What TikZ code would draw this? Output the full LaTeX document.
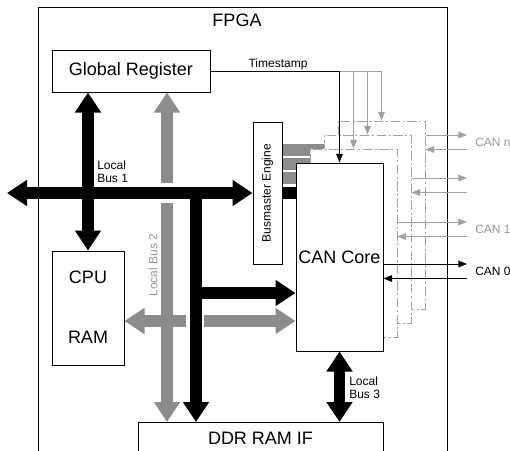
\documentclass[tikz,border=0pt]{standalone}
\usepackage{fontspec}
\setmainfont{Liberation Sans}
\usetikzlibrary{arrows.meta,calc,backgrounds,positioning}
\definecolor{busgray}{RGB}{140,140,140}
\definecolor{linegray}{RGB}{160,160,160}
\definecolor{labelgray}{RGB}{150,150,150}
\tikzset{
    box/.style={draw, fill=white, line width=0.75pt, inner sep=0pt},
    bigtxt/.style={font=\fontsize{13.5}{15}\selectfont},
    smalltxt/.style={font=\fontsize{9}{10}\selectfont, inner sep=0pt, align=left},
    canframe/.style={draw=linegray, fill=white, line width=0.75pt,
        dash pattern=on 7pt off 2pt on 1.5pt off 2pt,
        minimum width=65.25pt, minimum height=141pt, inner sep=0pt},
    bus/.style={line width=8.5pt, >={Triangle[width=18.75pt,length=15pt]}, ->},
    dbus/.style={bus, <->},
    gbus/.style={bus, busgray},
    sig/.style={line width=0.75pt, >={Triangle[width=5pt,length=6.5pt]}, ->}
}
\begin{document}
\begin{tikzpicture}[x=0.75pt,y=-0.75pt]
            \useasboundingbox (0,0) rectangle (510,450);

            \coordinate (corec) at (339.5,257);
            \coordinate (busL) at (7,193);
            \coordinate (l2) at (167,193);
            \coordinate (l1v) at (196,193);
            \coordinate (br) at (196,293);
            \coordinate (g2) at (196,321);
            \coordinate (edge) at (467,0);

            \node[bigtxt] (fpga) at (237,20) {FPGA};
            \node[box, bigtxt, minimum width=118.5pt, minimum height=31.5pt] (greg) at (131,71) {Global Register};
            \node[box, minimum width=54pt, minimum height=85.5pt] (cpu) at (88,308) {};
            \node[bigtxt] (cputxt) at (88,277) {CPU};
            \node[bigtxt] (ramtxt) at (88,337) {RAM};
            \node[box, minimum width=21.75pt, minimum height=106.5pt] (bme) at (267.5,193) {};
            \node[smalltxt, rotate=90] (bmetxt) at (bme) {Busmaster Engine};
            \node[box, anchor=north west, minimum width=183.75pt, minimum height=36pt] (ddr) at (138,422) {};
            \node[bigtxt] (ddrtxt) at (260.5,438) {DDR RAM IF};

            \foreach \f/\d in {n/42,2/28,1/14}{
                \node[canframe] (frame\f) at ($(corec)+(\d,-\d)$) {};
            }
            \node[box, bigtxt, minimum width=65.25pt, minimum height=141pt] (core) at (corec) {CAN Core};

            \begin{scope}[on background layer]
                \draw[line width=0.75pt] (38,470) -- (38,7) -- (447,7) -- (447,470);
                \foreach \f/\s in {n/43,2/29,1/15}{
                    \coordinate (bar\f) at ($(bme.east)+(0,-\s)$);
                    \draw[line width=9pt, busgray] (bar\f) -- (bar\f -| frame\f.west);
                }
                \draw[line width=9pt] (bme.east) -- (bme.east -| core.west);
            \end{scope}

            \draw[dbus] (busL) -- (bme.west);
            \draw[dbus] (cpu.north |- greg.south) -- (cpu.north);
            \draw[gbus] ($(l2)+(0,-10)$) -- (l2 |- greg.south);
            \draw[gbus] ($(l2)+(0,10)$) -- (l2 |- ddr.north);
            \draw[bus] (l1v) -- (l1v |- ddr.north);
            \draw[bus] (br) -- (br -| core.west);
            \draw[gbus] ($(g2)+(-10,0)$) -- (g2 -| cpu.east);
            \draw[gbus] ($(g2)+(8,0)$) -- (g2 -| core.west);
            \draw[dbus] (core.south) -- (core.south |- ddr.north);

            \coordinate (ts) at (greg.east -| core.north);
            \draw[sig] (greg.east) -- (ts) -- (core.north);
            \draw[line width=0.75pt, linegray] (ts) -- (ts -| framen.north);
            \foreach \f in {n,2,1}{
                \draw[sig, linegray] (ts -| frame\f.north) -- (frame\f.north);
            }

            \foreach \f/\y/\c in {framen/135/linegray, frame2/178/linegray, frame1/222/linegray, core/264/black}{
                \draw[sig, \c] (\f.east |- 0,\y) -- (edge |- 0,\y);
                \draw[sig, \c] (edge |- 0,\y+14.5) -- (\f.east |- 0,\y+14.5);
            }

            \node[smalltxt, anchor=base] (tslbl) at (278,67) {Timestamp};
            \node[smalltxt, anchor=west] (lb1) at (97,171.5) {Local\\Bus 1};
            \node[smalltxt, rotate=90, labelgray] (lb2) at (153,265) {Local Bus 2};
            \node[smalltxt, anchor=west] (lb3) at (349,387.5) {Local\\Bus 3};
            \node[smalltxt, anchor=west, labelgray] (cann) at (475,142) {CAN n};
            \node[smalltxt, anchor=west, labelgray] (can1) at (475,229) {CAN 1};
            \node[smalltxt, anchor=west] (can0) at (475,271.5) {CAN 0};
        \end{tikzpicture}
\end{document}
